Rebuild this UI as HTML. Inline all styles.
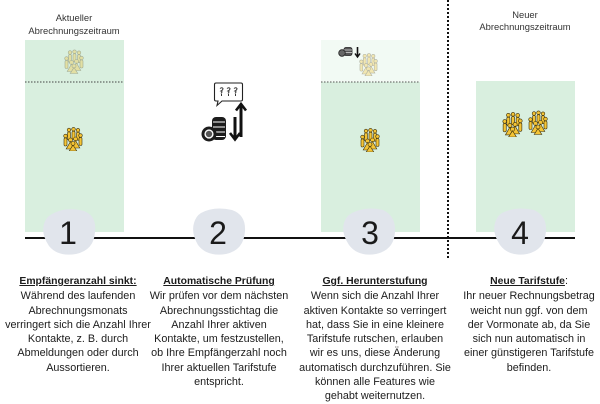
<!DOCTYPE html>
<html>
<head>
<meta charset="utf-8">
<style>
html,body{margin:0;padding:0;background:#fff;}
body{width:600px;height:400px;position:relative;overflow:hidden;font-family:"Liberation Sans",Arial,sans-serif;color:#1e1e1e;}
.lbl{position:absolute;width:140px;text-align:center;font-size:9.4px;color:#333;white-space:nowrap;}
.col{position:absolute;width:180px;text-align:center;font-size:10.8px;line-height:14.3px;white-space:nowrap;color:#1c1c1c;}
.col b{font-size:10.4px;text-decoration:underline;}
.num{position:absolute;width:60px;text-align:center;font-size:32px;line-height:32px;color:#1a1a1a;}
</style>
</head>
<body>
<svg width="600" height="400" viewBox="0 0 600 400" style="position:absolute;left:0;top:0">
  <defs>
    <symbol id="crowd" viewBox="0 0 20 24">
      <g fill="#f4c436" stroke="#3a300e" stroke-width="0.6">
        <circle cx="6" cy="3" r="1.8"/><rect x="4.5" y="5" width="3" height="8" rx="1.2"/>
        <circle cx="10.5" cy="2.2" r="1.8"/><rect x="9" y="4.2" width="3" height="8" rx="1.2"/>
        <circle cx="15" cy="3.2" r="1.8"/><rect x="13.5" y="5.2" width="3" height="8" rx="1.2"/>
        <circle cx="2.5" cy="9" r="1.8"/><rect x="1" y="11" width="3" height="8" rx="1.2"/>
        <circle cx="17.5" cy="8.5" r="1.8"/><rect x="16" y="10.5" width="3" height="8" rx="1.2"/>
        <circle cx="7.5" cy="13" r="2"/><path d="M7.5 14.5 L3.2 22 L11.8 22 Z"/>
        <circle cx="12.5" cy="12" r="2"/><path d="M12.5 13.5 L8.2 21 L16.8 21 Z"/>
        <circle cx="10" cy="16.5" r="2"/><path d="M10 18 L6.2 24 L13.8 24 Z"/>
      </g>
    </symbol>
  </defs>

  <!-- panel 1 -->
  <rect x="25" y="40" width="99" height="192" fill="#d9efdf"/>
  <line x1="25" y1="82" x2="124" y2="82" stroke="#444" stroke-width="1" stroke-dasharray="1.5,1.5"/>
  <use href="#crowd" x="64" y="49" width="20" height="25" opacity="0.35"/>
  <use href="#crowd" x="63" y="127" width="20" height="24"/>

  <!-- panel 3 -->
  <rect x="321" y="40" width="99" height="42" fill="#f2faf4"/>
  <rect x="321" y="82" width="99" height="150" fill="#d9efdf"/>
  <line x1="321" y1="82" x2="420" y2="82" stroke="#555" stroke-width="1" stroke-dasharray="1.5,1.5"/>
  <use href="#crowd" x="359" y="53" width="19" height="23" opacity="0.35"/>
  <use href="#crowd" x="360" y="128" width="20" height="24"/>
  <g>
    <rect x="344" y="47.5" width="8" height="8" rx="2" fill="#555" stroke="#222" stroke-width="0.8"/>
    <line x1="344" y1="50" x2="352" y2="50" stroke="#fff" stroke-width="0.6"/>
    <line x1="344" y1="52.5" x2="352" y2="52.5" stroke="#fff" stroke-width="0.6"/>
    <circle cx="342" cy="53" r="3.3" fill="#666" stroke="#222" stroke-width="0.8"/>
    <line x1="357.5" y1="47" x2="357.5" y2="56" stroke="#111" stroke-width="1.6"/>
    <polyline points="355,53.5 357.5,57 360,53.5" fill="none" stroke="#111" stroke-width="1.5"/>
  </g>

  <!-- panel 4 -->
  <rect x="476" y="81" width="99" height="151" fill="#d9efdf"/>
  <use href="#crowd" x="502" y="112" width="21" height="25"/>
  <use href="#crowd" x="528" y="110" width="20" height="25"/>

  <!-- panel 2 icon -->
  <g>
    <path d="M216 83 H241 Q242.5 83 242.5 84.5 V99.5 Q242.5 101 241 101 H222 L217 105.5 L218 101 H216 Q214.5 101 214.5 99.5 V84.5 Q214.5 83 216 83 Z" fill="#fff" stroke="#222" stroke-width="1.1"/>
    <g fill="none" stroke="#333" stroke-width="1">
      <path d="M220 88.5 q2 -1.5 3 0 q0 1.5 -2 2.5 q2 0.5 0 2.5 M221.5 94 v2"/>
      <path d="M227 88.5 q2 -1.5 3 0 q0 1.5 -2 2.5 q2 0.5 0 2.5 M228.5 94 v2"/>
      <path d="M234 88.5 q2 -1.5 3 0 q0 1.5 -2 2.5 q2 0.5 0 2.5 M235.5 94 v2"/>
    </g>
    <rect x="212" y="117" width="14" height="23" rx="4" fill="#1c1c1c"/>
    <g stroke="#fff" stroke-width="1">
      <line x1="213" y1="122" x2="225" y2="122"/>
      <line x1="213" y1="127" x2="225" y2="127"/>
      <line x1="213" y1="132" x2="225" y2="132"/>
      <line x1="213" y1="136.5" x2="225" y2="136.5"/>
    </g>
    <circle cx="209" cy="134" r="7.5" fill="#1c1c1c"/>
    <circle cx="209" cy="134" r="5" fill="#fff" stroke="#1c1c1c" stroke-width="0.8"/>
    <circle cx="209" cy="134" r="3.2" fill="#555"/>
    <line x1="241" y1="137" x2="241" y2="105" stroke="#111" stroke-width="3"/>
    <polyline points="236,110.5 241,104 246,110.5" fill="none" stroke="#111" stroke-width="2.6"/>
    <line x1="235" y1="117" x2="235" y2="138.5" stroke="#111" stroke-width="3"/>
    <polyline points="230,133 235,139.5 240,133" fill="none" stroke="#111" stroke-width="2.6"/>
  </g>

  <line x1="448" y1="0" x2="448" y2="258" stroke="#111" stroke-width="2" stroke-dasharray="2,2"/>

  <line x1="25" y1="238" x2="575" y2="238" stroke="#111" stroke-width="2"/>

  <path d="M52 214 Q66 206 84 211 Q97 216 95 232 Q94 250 76 254 Q58 257 49 246 Q41 234 44 224 Q46 217 52 214 Z" fill="#e1e5ec"/>
  <path d="M201 213 Q214 206 232 210 Q246 215 245 231 Q244 250 226 254 Q207 257 198 245 Q191 233 194 223 Q196 216 201 213 Z" fill="#e1e5ec"/>
  <path d="M352 213 Q366 206 383 210 Q396 216 395 232 Q394 250 376 254 Q358 257 349 245 Q341 233 344 223 Q346 216 352 213 Z" fill="#e1e5ec"/>
  <path d="M502 213 Q516 206 534 210 Q547 216 546 231 Q545 250 527 254 Q509 257 500 245 Q492 233 495 223 Q497 216 502 213 Z" fill="#e1e5ec"/>
</svg>

<div class="lbl" style="left:4px;top:10.5px;line-height:13px;">Aktueller<br>Abrechnungszeitraum</div>
<div class="lbl" style="left:455px;top:9px;line-height:12px;">Neuer<br>Abrechnungszeitraum</div>

<div class="num" style="left:38px;top:217px;">1</div>
<div class="num" style="left:188px;top:217px;">2</div>
<div class="num" style="left:340px;top:217px;">3</div>
<div class="num" style="left:490px;top:217px;">4</div>

<div class="col" style="left:-12px;top:274px;"><b>Empfängeranzahl sinkt:</b><br>Während des laufenden<br>Abrechnungsmonats<br>verringert sich die Anzahl Ihrer<br>Kontakte, z. B. durch<br>Abmeldungen oder durch<br>Aussortieren.</div>
<div class="col" style="left:129px;top:274px;"><b>Automatische Prüfung</b><br>Wir prüfen vor dem nächsten<br>Abrechnungsstichtag die<br>Anzahl Ihrer aktiven<br>Kontakte, um festzustellen,<br>ob Ihre Empfängerzahl noch<br>Ihrer aktuellen Tarifstufe<br>entspricht.</div>
<div class="col" style="left:285px;top:274px;"><b>Ggf. Herunterstufung</b><br>Wenn sich die Anzahl Ihrer<br>aktiven Kontakte so verringert<br>hat, dass Sie in eine kleinere<br>Tarifstufe rutschen, erlauben<br>wir es uns, diese Änderung<br>automatisch durchzuführen. Sie<br>können alle Features wie<br>gehabt weiternutzen.</div>
<div class="col" style="left:439px;top:274px;"><b>Neue Tarifstufe</b>:<br>Ihr neuer Rechnungsbetrag<br>weicht nun ggf. von dem<br>der Vormonate ab, da Sie<br>sich nun automatisch in<br>einer günstigeren Tarifstufe<br>befinden.</div>
</body>
</html>
